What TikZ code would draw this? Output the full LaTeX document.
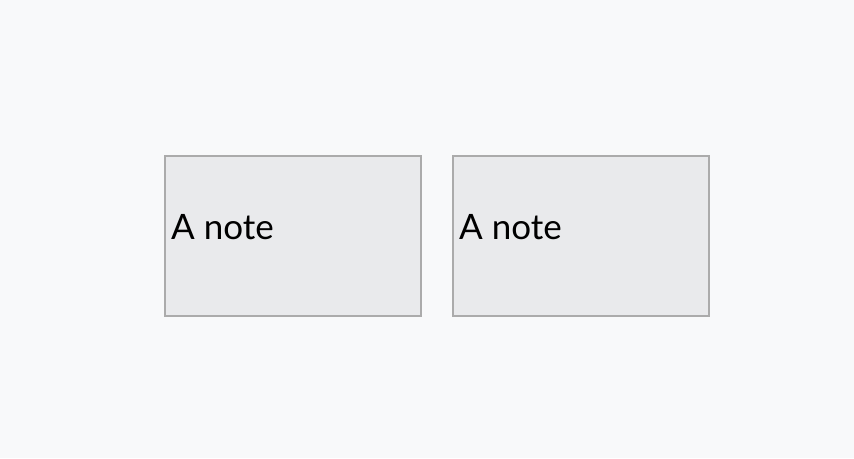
\documentclass[tikz,border=0pt]{standalone}
\usepackage{fontspec}
\setmainfont{Lato}
\definecolor{bg}{HTML}{F8F9FA}
\definecolor{notefill}{HTML}{E9EAEC}
\definecolor{noteline}{HTML}{ABABAB}
\begin{document}
\begin{tikzpicture}[x=1pt,y=-1pt,
  notebox/.style={draw=noteline,fill=notefill,line width=1.5pt,minimum width=256pt,minimum height=160pt,inner sep=0pt},
  notetext/.style={anchor=base west,inner sep=0pt,font=\fontsize{35}{40}\selectfont}]
\fill[bg] (0,0) rectangle (854,458);
\useasboundingbox (0,0) rectangle (854,458);
\node[notebox] (n1) at (293,236) {};
\node[notebox] (n2) at (581,236) {};
\node[notetext] (t1) at (171,239) {A note};
\node[notetext] (t2) at (459,239) {A note};
\end{tikzpicture}
\end{document}
